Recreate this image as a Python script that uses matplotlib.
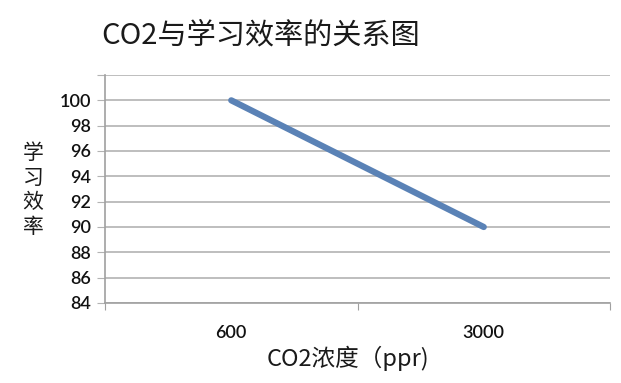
import matplotlib.pyplot as plt

# data
categories = ['600', '3000']
efficiency = [100, 90]
y_ticks = [84, 86, 88, 90, 92, 94, 96, 98, 100, 102]
y_labels = ['84', '86', '88', '90', '92', '94', '96', '98', '100', '']

plt.rcParams['font.family'] = ['Noto Sans CJK SC', 'DejaVu Sans']

fig = plt.figure(figsize=(6.21, 3.83), dpi=100)
ax = fig.add_axes([105 / 621, 1 - 303 / 383, 505 / 621, 228 / 383])

x = range(len(categories))
ax.plot(x, efficiency, color='#5a82b6', linewidth=4.5, solid_capstyle='round', zorder=3)

ax.set_xlim(-0.5, len(categories) - 0.5)
ax.set_ylim(84, 102)
ax.set_yticks(y_ticks)
ax.set_yticklabels(y_labels, family='Lato', fontsize=13, fontweight='semibold', color='#111111')
ax.yaxis.grid(True, color='#b3b3b3', linewidth=1.2)
ax.set_axisbelow(True)

# category ticks sit on the boundaries, labels in the middle
ax.set_xticks([-0.5, 0.5, 1.5])
ax.set_xticklabels([])
ax.set_xticks(list(x), minor=True)
ax.set_xticklabels(categories, minor=True, family='Lato', fontsize=13,
                   fontweight='semibold', color='#111111')
ax.tick_params(axis='x', which='minor', length=0, pad=16)
ax.tick_params(axis='x', which='major', length=5, color='#a0a0a0')
ax.tick_params(axis='y', length=6, color='#b3b3b3', pad=4)

for side in ['top', 'right']:
    ax.spines[side].set_visible(False)
for side in ['left', 'bottom']:
    ax.spines[side].set_color('#a0a0a0')
    ax.spines[side].set_linewidth(1.2)

fig.text(261 / 621, 1 - 35 / 383, 'CO2与学习效率的关系图', ha='center', va='center',
         fontsize=21, color='#1a1a1a')
fig.text(33 / 621, 1 - 190 / 383, '学\n习\n效\n率', ha='center', va='center',
         fontsize=15, linespacing=1.15, color='#1a1a1a')
fig.text(348 / 621, 1 - 358 / 383, 'CO2浓度（ppr)', ha='center', va='center',
         fontsize=17, color='#1a1a1a')

fig.savefig('out.png', dpi=100)
